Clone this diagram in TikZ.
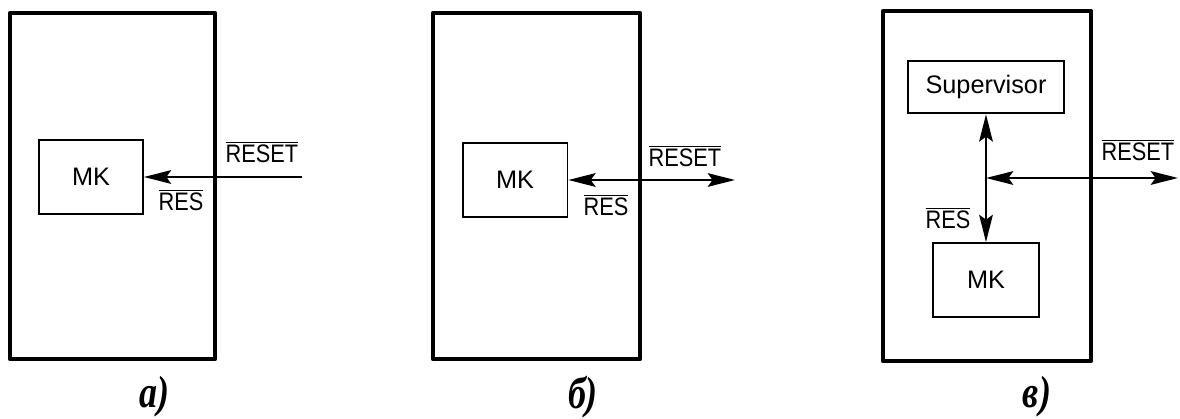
\documentclass[tikz,border=0pt]{standalone}
\usepackage{fontspec}
\setmainfont{Liberation Sans}
\newfontfamily\sigfont{Liberation Sans}[FakeStretch=0.86]
\newfontfamily\capfont{Liberation Serif}[FakeStretch=0.8]
\usetikzlibrary{arrows.meta}

\begin{document}
\begin{tikzpicture}[x=0.025cm, y=-0.025cm,
  >={Stealth[length=0.68cm, width=0.34cm, inset=0.12cm]},
  frame/.style={line width=3.2pt, line join=round},
  unit/.style={rectangle, draw, line width=1.3pt, inner sep=0pt, font=\fontsize{18}{21}\selectfont},
  edge/.style={line width=1.7pt},
  sigl/.style={inner sep=0pt, font=\sigfont\fontsize{18}{21}\selectfont},
  caption/.style={inner sep=0pt, font=\capfont\bfseries\itshape\fontsize{32}{36}\selectfont}
]
\useasboundingbox (0,0) rectangle (1180,419);
% a)
\draw[frame] (10,13) rectangle (215,359);
\node[unit, minimum width=2.6cm, minimum height=1.85cm] (mkA) at (91,177) {MK};
\coordinate (inA) at (302,177);
\draw[edge, ->] (inA) -- (mkA.east);
\node[sigl] (resetA) at (262,152) {$\overline{\hbox{RESET}}$};
\node[sigl] (resA) at (181,200) {$\overline{\hbox{RES}}$};
\node[caption] (capA) at (154,397) {а)};
% б)
\draw[frame] (433,13) rectangle (640,359);
\node[unit, minimum width=2.62cm, minimum height=1.85cm] (mkB) at (515,180) {MK};
\coordinate (outB) at (735,180);
\draw[edge, <->] (mkB.east) -- (outB);
\node[sigl] (resetB) at (685,156) {$\overline{\hbox{RESET}}$};
\node[sigl] (resB) at (606,205) {$\overline{\hbox{RES}}$};
\node[caption] (capB) at (583,397) {б)};
% в)
\draw[frame] (883,11) rectangle (1091,361);
\node[unit, minimum width=3.9cm, minimum height=1.32cm] (sup) at (986,87) {Supervisor};
\node[unit, minimum width=2.65cm, minimum height=1.85cm] (mkC) at (986,280) {MK};
\coordinate (jC) at (986,178);
\coordinate (outC) at (1178,178);
\draw[edge, <->] (sup.south) -- (mkC.north);
\draw[edge, <->] (jC) -- (outC);
\node[sigl] (resetC) at (1138,150) {$\overline{\hbox{RESET}}$};
\node[sigl] (resC) at (948,218) {$\overline{\hbox{RES}}$};
\node[caption] (capC) at (1037,397) {в)};
\end{tikzpicture}
\end{document}
